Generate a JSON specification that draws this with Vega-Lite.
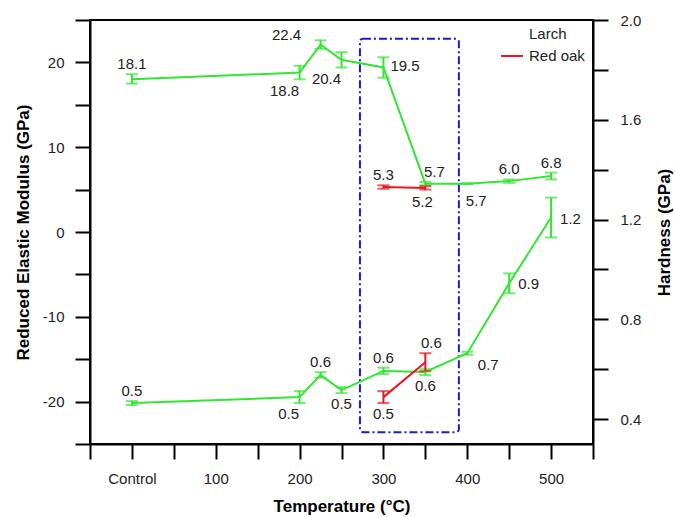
{
  "$schema": "https://vega.github.io/schema/vega-lite/v6.json",
  "width": 503,
  "height": 424,
  "autosize": {"type": "none"},
  "padding": {"left": 90, "top": 20, "right": 82, "bottom": 73},
  "background": "white",
  "config": {
    "font": "Liberation Sans",
    "view": {"stroke": "black", "strokeWidth": 2},
    "axis": {
      "grid": false,
      "domainColor": "black",
      "domainWidth": 2,
      "tickColor": "black",
      "tickWidth": 2,
      "labelFont": "Liberation Sans",
      "labelFontSize": 15,
      "labelColor": "#222222",
      "titleFont": "Liberation Sans",
      "titleFontSize": 17,
      "titleFontWeight": "bold",
      "titleColor": "black"
    },
    "legend": {
      "labelFont": "Liberation Sans",
      "labelFontSize": 15,
      "labelColor": "#222222"
    }
  },
  "datasets": {
    "pts": [
      {"s": "Larch", "t": 0, "m": 18.0, "mLo": 17.5, "mHi": 18.6, "mLab": "18.1", "mPos": "above", "h": 0.464, "hLo": 0.456, "hHi": 0.472, "hLab": "0.5", "hPos": "above"},
      {"s": "Larch", "t": 200, "m": 18.8, "mLo": 18.0, "mHi": 19.6, "mLab": "18.8", "mPos": "belowleft", "h": 0.488, "hLo": 0.464, "hHi": 0.512, "hLab": "0.5", "hPos": "belowleft"},
      {"s": "Larch", "t": 225, "m": 22.1, "mLo": 21.6, "mHi": 22.6, "mLab": "22.4", "mPos": "aboveleft", "h": 0.576, "hLo": 0.566, "hHi": 0.588, "hLab": "0.6", "hPos": "above"},
      {"s": "Larch", "t": 250, "m": 20.3, "mLo": 19.4, "mHi": 21.2, "mLab": "20.4", "mPos": "belowleft", "h": 0.516, "hLo": 0.504, "hHi": 0.528, "hLab": "0.5", "hPos": "below"},
      {"s": "Larch", "t": 300, "m": 19.4, "mLo": 18.2, "mHi": 20.6, "mLab": "19.5", "mPos": "right", "h": 0.593, "hLo": 0.58, "hHi": 0.606, "hLab": "0.6", "hPos": "above"},
      {"s": "Larch", "t": 350, "m": 5.7, "mLo": 5.5, "mHi": 5.9, "mLab": "5.7", "mPos": "aboveright", "h": 0.589, "hLo": 0.576, "hHi": 0.6, "hLab": "0.6", "hPos": "below"},
      {"s": "Larch", "t": 400, "m": 5.7, "mLo": 5.65, "mHi": 5.75, "mLab": "5.7", "mPos": "belowright", "h": 0.664, "hLo": 0.658, "hHi": 0.67, "hLab": "0.7", "hPos": "belowright"},
      {"s": "Larch", "t": 450, "m": 6.0, "mLo": 5.8, "mHi": 6.2, "mLab": "6.0", "mPos": "above", "h": 0.944, "hLo": 0.904, "hHi": 0.984, "hLab": "0.9", "hPos": "right"},
      {"s": "Larch", "t": 500, "m": 6.6, "mLo": 6.2, "mHi": 7.0, "mLab": "6.8", "mPos": "above", "h": 1.208, "hLo": 1.128, "hHi": 1.288, "hLab": "1.2", "hPos": "right"},
      {"s": "Red oak", "t": 300, "m": 5.3, "mLo": 5.1, "mHi": 5.5, "mLab": "5.3", "mPos": "above", "h": 0.488, "hLo": 0.464, "hHi": 0.512, "hLab": "0.5", "hPos": "below"},
      {"s": "Red oak", "t": 350, "m": 5.2, "mLo": 5.0, "mHi": 5.4, "mLab": "5.2", "mPos": "below", "h": 0.628, "hLo": 0.592, "hHi": 0.664, "hLab": "0.6", "hPos": "aboveright"}
    ],
    "box": [{"x1": 272, "x2": 390, "y1": 22.8, "y2": -23.6}]
  },
  "resolve": {"scale": {"y": "independent"}},
  "layer": [
    {
      "data": {"name": "pts"},
      "layer": [
        {
          "data": {"name": "box"},
          "mark": {"type": "rect", "filled": false, "stroke": "#1a1acc", "strokeWidth": 2, "strokeDash": [8, 3, 2, 3], "cornerRadius": 3},
          "encoding": {
            "x": {
              "field": "x1", "type": "quantitative",
              "scale": {"domain": [-50, 550], "nice": false, "zero": false},
              "axis": {
                "orient": "bottom",
                "title": "Temperature (°C)",
                "values": [-50, 0, 50, 100, 150, 200, 250, 300, 350, 400, 450, 500, 550],
                "tickSize": 15,
                "encode": {"ticks": {"update": {"y2": {"signal": "(datum.value % 100 === 0 && datum.value >= 0) ? 15 : 7"}}}},
                "labelExpr": "datum.value === 0 ? 'Control' : ((datum.value % 100 === 0 && datum.value > 0) ? '' + datum.value : '')",
                "labelPadding": 12,
                "titlePadding": 12
              }
            },
            "x2": {"field": "x2"},
            "y": {
              "field": "y1", "type": "quantitative",
              "title": "Reduced Elastic Modulus (GPa)",
              "scale": {"domain": [-25, 25], "nice": false, "zero": false},
              "axis": {
                "orient": "left",
                "title": "Reduced Elastic Modulus (GPa)",
                "values": [-25, -20, -15, -10, -5, 0, 5, 10, 15, 20, 25],
                "tickSize": 15,
                "encode": {"ticks": {"update": {"x2": {"signal": "abs(datum.value) % 10 === 0 ? -15 : -7"}}}},
                "labelExpr": "abs(datum.value) % 10 === 0 ? '' + datum.value : ''",
                "labelPadding": 11,
                "titlePadding": 10
              }
            },
            "y2": {"field": "y2"}
          }
        },
        {
          "transform": [{"filter": "datum.s === 'Larch'"}],
          "mark": {"type": "line", "color": "#33e633", "strokeWidth": 2},
          "encoding": {
            "x": {"field": "t", "type": "quantitative"},
            "y": {"field": "m", "type": "quantitative"}
          }
        },
        {
          "mark": {"type": "line", "strokeWidth": 2},
          "encoding": {
            "x": {"field": "t", "type": "quantitative"},
            "y": {"field": "m", "type": "quantitative"},
            "stroke": {
              "field": "s", "type": "nominal",
              "scale": {"domain": ["Larch", "Red oak"], "range": ["transparent", "#e8161e"]},
              "legend": {
                "title": null,
                "orient": "none",
                "legendX": 410,
                "legendY": 2,
                "symbolType": "stroke",
                "symbolSize": 484,
                "symbolStrokeWidth": 2,
                "rowPadding": 2,
                "labelOffset": 5
              }
            }
          }
        },
        {
          "mark": {"type": "errorbar", "ticks": true, "size": 12, "thickness": 2},
          "encoding": {
            "x": {"field": "t", "type": "quantitative", "title": "Temperature (°C)"},
            "y": {"field": "mLo", "type": "quantitative", "title": "Reduced Elastic Modulus (GPa)"},
            "y2": {"field": "mHi"},
            "color": {"field": "s", "type": "nominal", "scale": {"domain": ["Larch", "Red oak"], "range": ["#33e633", "#e8161e"]}, "legend": null}
          }
        },
        {
          "transform": [{"filter": "datum.mPos === 'above'"}],
          "mark": {"type": "text", "dy": -10, "fontSize": 15, "color": "#222222"},
          "encoding": {"x": {"field": "t", "type": "quantitative"}, "y": {"field": "mHi", "type": "quantitative"}, "text": {"field": "mLab"}}
        },
        {
          "transform": [{"filter": "datum.mPos === 'aboveright'"}],
          "mark": {"type": "text", "dy": -10, "dx": 9, "fontSize": 15, "color": "#222222"},
          "encoding": {"x": {"field": "t", "type": "quantitative"}, "y": {"field": "mHi", "type": "quantitative"}, "text": {"field": "mLab"}}
        },
        {
          "transform": [{"filter": "datum.mPos === 'aboveleft'"}],
          "mark": {"type": "text", "dy": -5, "dx": -34, "fontSize": 15, "color": "#222222"},
          "encoding": {"x": {"field": "t", "type": "quantitative"}, "y": {"field": "mHi", "type": "quantitative"}, "text": {"field": "mLab"}}
        },
        {
          "transform": [{"filter": "datum.mPos === 'below'"}],
          "mark": {"type": "text", "dy": 12, "dx": -3, "fontSize": 15, "color": "#222222"},
          "encoding": {"x": {"field": "t", "type": "quantitative"}, "y": {"field": "mLo", "type": "quantitative"}, "text": {"field": "mLab"}}
        },
        {
          "transform": [{"filter": "datum.mPos === 'belowleft'"}],
          "mark": {"type": "text", "dy": 12, "dx": -15, "fontSize": 15, "color": "#222222"},
          "encoding": {"x": {"field": "t", "type": "quantitative"}, "y": {"field": "mLo", "type": "quantitative"}, "text": {"field": "mLab"}}
        },
        {
          "transform": [{"filter": "datum.mPos === 'right'"}],
          "mark": {"type": "text", "dy": -1, "dx": 7, "align": "left", "fontSize": 15, "color": "#222222"},
          "encoding": {"x": {"field": "t", "type": "quantitative"}, "y": {"field": "m", "type": "quantitative"}, "text": {"field": "mLab"}}
        },
        {
          "transform": [{"filter": "datum.mPos === 'belowright'"}],
          "mark": {"type": "text", "dy": 17, "dx": 9, "fontSize": 15, "color": "#222222"},
          "encoding": {"x": {"field": "t", "type": "quantitative"}, "y": {"field": "m", "type": "quantitative"}, "text": {"field": "mLab"}}
        }
      ]
    },
    {
      "data": {"name": "pts"},
      "layer": [
        {
          "transform": [{"filter": "datum.s === 'Larch'"}],
          "mark": {"type": "line", "color": "#33e633", "strokeWidth": 2},
          "encoding": {
            "x": {"field": "t", "type": "quantitative"},
            "y": {
              "field": "h", "type": "quantitative",
              "title": "Hardness (GPa)",
              "scale": {"domain": [0.3, 2.0], "nice": false, "zero": false},
              "axis": {
                "orient": "right",
                "title": "Hardness (GPa)",
                "titleAngle": -90,
                "titleX": 71,
                "titleY": 212,
                "titleAlign": "center",
                "titleBaseline": "middle",
                "values": [0.4, 0.6, 0.8, 1.0, 1.2, 1.4, 1.6, 1.8, 2.0],
                "tickSize": 15,
                "encode": {"ticks": {"update": {"x2": {"signal": "round(datum.value * 10) % 4 === 0 ? 15 : 7"}}}},
                "labelExpr": "round(datum.value * 10) % 4 === 0 ? format(datum.value, '.1f') : ''",
                "labelPadding": 12
              }
            }
          }
        },
        {
          "transform": [{"filter": "datum.s === 'Red oak'"}],
          "mark": {"type": "line", "color": "#e8161e", "strokeWidth": 2},
          "encoding": {
            "x": {"field": "t", "type": "quantitative"},
            "y": {"field": "h", "type": "quantitative"}
          }
        },
        {
          "mark": {"type": "errorbar", "ticks": true, "size": 12, "thickness": 2},
          "encoding": {
            "x": {"field": "t", "type": "quantitative", "title": "Temperature (°C)"},
            "y": {"field": "hLo", "type": "quantitative", "title": "Hardness (GPa)"},
            "y2": {"field": "hHi"},
            "color": {"field": "s", "type": "nominal", "scale": {"domain": ["Larch", "Red oak"], "range": ["#33e633", "#e8161e"]}, "legend": null}
          }
        },
        {
          "transform": [{"filter": "datum.hPos === 'above'"}],
          "mark": {"type": "text", "dy": -10, "fontSize": 15, "color": "#222222"},
          "encoding": {"x": {"field": "t", "type": "quantitative"}, "y": {"field": "hHi", "type": "quantitative"}, "text": {"field": "hLab"}}
        },
        {
          "transform": [{"filter": "datum.hPos === 'aboveright'"}],
          "mark": {"type": "text", "dy": -10, "dx": 6, "fontSize": 15, "color": "#222222"},
          "encoding": {"x": {"field": "t", "type": "quantitative"}, "y": {"field": "hHi", "type": "quantitative"}, "text": {"field": "hLab"}}
        },
        {
          "transform": [{"filter": "datum.hPos === 'below'"}],
          "mark": {"type": "text", "dy": 11, "fontSize": 15, "color": "#222222"},
          "encoding": {"x": {"field": "t", "type": "quantitative"}, "y": {"field": "hLo", "type": "quantitative"}, "text": {"field": "hLab"}}
        },
        {
          "transform": [{"filter": "datum.hPos === 'belowleft'"}],
          "mark": {"type": "text", "dy": 11, "dx": -11, "fontSize": 15, "color": "#222222"},
          "encoding": {"x": {"field": "t", "type": "quantitative"}, "y": {"field": "hLo", "type": "quantitative"}, "text": {"field": "hLab"}}
        },
        {
          "transform": [{"filter": "datum.hPos === 'right'"}],
          "mark": {"type": "text", "dy": 1, "dx": 9, "align": "left", "fontSize": 15, "color": "#222222"},
          "encoding": {"x": {"field": "t", "type": "quantitative"}, "y": {"field": "h", "type": "quantitative"}, "text": {"field": "hLab"}}
        },
        {
          "transform": [{"filter": "datum.hPos === 'belowright'"}],
          "mark": {"type": "text", "dy": 12, "dx": 21, "fontSize": 15, "color": "#222222"},
          "encoding": {"x": {"field": "t", "type": "quantitative"}, "y": {"field": "h", "type": "quantitative"}, "text": {"field": "hLab"}}
        }
      ]
    }
  ]
}
